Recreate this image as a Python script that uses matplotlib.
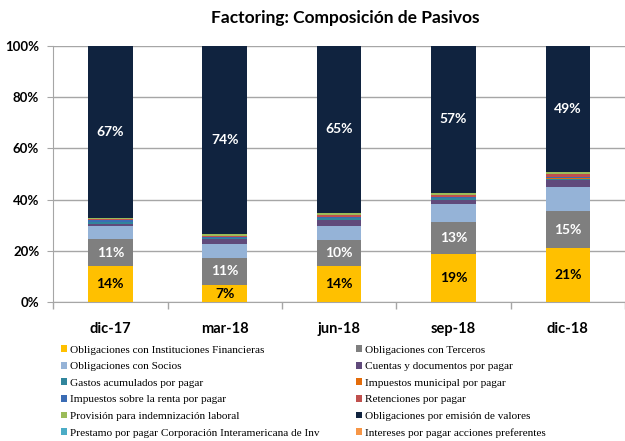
import numpy as np
import matplotlib
matplotlib.use("Agg")
import matplotlib.pyplot as plt
from matplotlib.ticker import FixedLocator, PercentFormatter

# Periodos
periodos = ["dic-17", "mar-18", "jun-18", "sep-18", "dic-18"]

# Participacion (%) de cada pasivo, de abajo hacia arriba en la barra
inst_financieras = [14.0, 6.7, 13.9, 18.6, 21.0]
terceros = [10.6, 10.6, 10.4, 12.7, 14.6]
socios = [5.0, 5.3, 5.3, 6.9, 9.2]
cuentas_docs = [1.0, 1.9, 2.6, 1.8, 2.9]
gastos_acum = [0.6, 0.4, 0.6, 0.5, 0.5]
imp_municipal = [0.2, 0.2, 0.2, 0.2, 0.3]
imp_renta = [0.5, 0.3, 0.4, 0.3, 0.5]
retenciones = [0.4, 0.4, 0.6, 0.9, 1.1]
provision = [0.6, 0.6, 0.8, 0.8, 0.8]
emision_valores = [67.1, 73.6, 65.2, 57.3, 49.1]
prestamo_cii = [0.0, 0.0, 0.0, 0.0, 0.0]
intereses_pref = [0.0, 0.0, 0.0, 0.0, 0.0]

series = [
    ("Obligaciones con Instituciones Financieras", inst_financieras, "#FFC000"),
    ("Obligaciones con Terceros", terceros, "#7F7F7F"),
    ("Obligaciones con Socios", socios, "#95B3D7"),
    ("Cuentas y documentos por pagar", cuentas_docs, "#604A7B"),
    ("Gastos acumulados por pagar", gastos_acum, "#31859C"),
    ("Impuestos municipal por pagar", imp_municipal, "#E46C0A"),
    ("Impuestos sobre la renta por pagar", imp_renta, "#3B6CB4"),
    ("Retenciones por pagar", retenciones, "#C0504D"),
    ("Provisión para indemnización laboral", provision, "#9BBB59"),
    ("Obligaciones por emisión de valores", emision_valores, "#10233F"),
    ("Prestamo por pagar Corporación Interamericana de Inv", prestamo_cii, "#4BACC6"),
    ("Intereses por pagar acciones preferentes", intereses_pref, "#F79646"),
]

# Series con etiqueta de dato y color del texto
etiquetas = {0: "black", 1: "white", 9: "white"}

fig = plt.figure(figsize=(6.25, 4.41), dpi=100)
ax = fig.add_axes([0.085, 0.315, 0.915, 0.581])

x = np.arange(len(periodos))
base = np.zeros(len(periodos))
handles = []
for i, (nombre, valores, color) in enumerate(series):
    v = np.array(valores)
    b = ax.bar(x, v, bottom=base, width=0.39, color=color, label=nombre,
               linewidth=0, zorder=3)
    handles.append(b)
    if i in etiquetas:
        for xi, vi, bi in zip(x, v, base):
            ax.text(xi, bi + vi / 2, "{:.0f}%".format(round(vi)), ha="center", va="center",
                    color=etiquetas[i], fontsize=10, fontweight="bold", family="Lato",
                    zorder=4)
    base = base + v

ax.set_ylim(0, 100)
ax.set_xlim(-0.5, 4.45)
ax.yaxis.set_major_locator(FixedLocator([0, 20, 40, 60, 80, 100]))
ax.yaxis.set_major_formatter(PercentFormatter(decimals=0))
ax.set_xticks(x)
ax.set_xticklabels(periodos)
ax.set_xticks(np.arange(-0.5, 4.6, 1), minor=True)
ax.tick_params(axis="x", which="major", length=0, pad=14, labelsize=10.5)
ax.tick_params(axis="x", which="minor", length=5, color="#A6A6A6", width=1)
ax.tick_params(axis="y", length=4, color="#A6A6A6", labelsize=9.5, pad=6)
for lab in ax.get_xticklabels() + ax.get_yticklabels():
    lab.set_family("Lato")
    lab.set_fontweight("bold")

ax.grid(axis="y", color="#A6A6A6", linewidth=1, zorder=0)
for s in ["top", "right"]:
    ax.spines[s].set_visible(False)
ax.spines["left"].set_color("#A6A6A6")
ax.spines["bottom"].set_color("#A6A6A6")

fig.suptitle("Factoring: Composición de Pasivos", x=0.553, y=0.978, fontsize=12.5,
             fontweight="bold", family="Lato")

# Leyenda: el orden de Excel va por filas, matplotlib por columnas
orden = list(range(0, 12, 2)) + list(range(1, 12, 2))
fig.legend([handles[i] for i in orden], [series[i][0] for i in orden],
           loc="upper left", bbox_to_anchor=(0.098, 0.217), ncol=2, frameon=False,
           prop={"family": "Liberation Serif", "size": 8.1},
           handlelength=0.55, handleheight=0.55, handletextpad=0.25,
           columnspacing=3.2, labelspacing=0.64, borderpad=0, borderaxespad=0)

fig.savefig("out.png", dpi=100)
